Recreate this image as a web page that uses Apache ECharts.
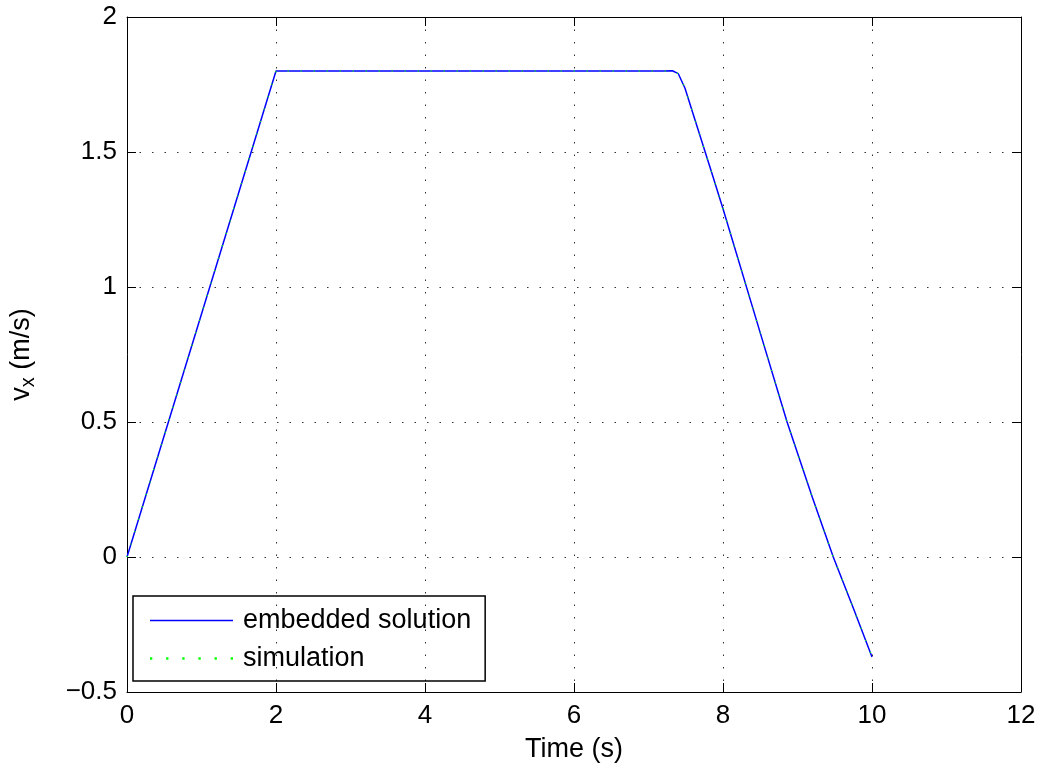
<!DOCTYPE html>
<html><head><meta charset="utf-8">
<script src="https://cdn.jsdelivr.net/npm/echarts@6/dist/echarts.min.js"></script>
<style>html,body{margin:0;padding:0;background:#fff}#c{width:1042px;height:769px}</style>
</head><body><div id="c"></div>
<script>
const timeS = [0, 2, 7.2, 7.32, 7.4, 7.49, 7.6, 7.83, 8.0, 8.5, 8.86, 9.2, 9.48, 9.75, 10];
const embedded = [0, 1.8, 1.8, 1.801, 1.79, 1.736, 1.64, 1.44, 1.29, 0.83, 0.5, 0.22, 0, -0.19, -0.37];
const simulation = [0, 1.8, 1.8, 1.801, 1.79, 1.736, 1.64, 1.44, 1.29, 0.83, 0.5, 0.22, 0, -0.19, -0.37];
const xTicks = [0, 2, 4, 6, 8, 10, 12];
const yTicks = [-0.5, 0, 0.5, 1, 1.5, 2];

const font = 'Liberation Sans, Arial, sans-serif';
const fmtY = v => (v < 0 ? '\u2212' + Math.abs(v) : String(v));
const pairs = (xs, ys) => xs.map((x, i) => [x, ys[i]]);

const chart = echarts.init(document.getElementById('c'));
const tickCommon = {show: true, inside: true, length: 9, lineStyle: {color: '#000', width: 1}};
const gridDots = {show: true, lineStyle: {color: '#333', type: [1.5, 11], width: 1}};
chart.setOption({
  animation: false,
  backgroundColor: '#fff',
  grid: {left: 127, right: 21, top: 17, bottom: 77, show: false, containLabel: false, outerBoundsMode: 'none'},
  legend: {
    left: 133, top: 596, orient: 'vertical',
    borderColor: '#000', borderWidth: 1.5, padding: [11, 14, 9, 17],
    itemWidth: 83, itemHeight: 14, itemGap: 11,
    textStyle: {fontFamily: font, fontSize: 27, color: '#000', lineHeight: 27, padding: [0, 0, 0, 5]},
    data: [
      {name: 'embedded solution', icon: 'path://M0,6 L83,6 L83,7.5 L0,7.5 Z', itemStyle: {color: '#0000ff'}},
      {name: 'simulation', icon: 'path://M0,6 L2,6 L2,8 L0,8 Z M14,6 L16,6 L16,8 L14,8 Z M28,6 L30,6 L30,8 L28,8 Z M42,6 L44,6 L44,8 L42,8 Z M56,6 L58,6 L58,8 L56,8 Z M70,6 L72,6 L72,8 L70,8 Z', itemStyle: {color: '#00ff00'}}
    ]
  },
  xAxis: [{
    type: 'value', min: 0, max: 12, interval: 2, position: 'bottom',
    name: 'Time (s)', nameLocation: 'middle', nameGap: 44,
    nameTextStyle: {fontFamily: font, fontSize: 27, color: '#000'},
    axisLine: {show: true, onZero: false, lineStyle: {color: '#000', width: 1}},
    axisTick: tickCommon,
    axisLabel: {fontFamily: font, fontSize: 26, color: '#000', margin: 11,
      formatter: v => xTicks.includes(v) ? String(v) : ''},
    splitLine: gridDots
  }, {
    type: 'value', min: 0, max: 12, interval: 2, position: 'top',
    axisLine: {show: true, onZero: false, lineStyle: {color: '#000', width: 1}},
    axisTick: tickCommon, axisLabel: {show: false}, splitLine: {show: false}
  }],
  yAxis: [{
    type: 'value', min: -0.5, max: 2, interval: 0.5, position: 'left',
    name: 'v{sub|x} (m/s)', nameLocation: 'middle', nameGap: 89, nameRotate: 90,
    nameTextStyle: {fontFamily: font, fontSize: 27, color: '#000',
      rich: {sub: {fontFamily: font, fontSize: 20, color: '#000', verticalAlign: 'bottom', padding: [12, 0, 0, 0]}}},
    axisLine: {show: true, onZero: false, lineStyle: {color: '#000', width: 1}},
    axisTick: tickCommon,
    axisLabel: {fontFamily: font, fontSize: 26, color: '#000', margin: 10,
      formatter: v => yTicks.includes(v) ? fmtY(v) : ''},
    splitLine: gridDots
  }, {
    type: 'value', min: -0.5, max: 2, interval: 0.5, position: 'right',
    axisLine: {show: true, onZero: false, lineStyle: {color: '#000', width: 1}},
    axisTick: tickCommon, axisLabel: {show: false}, splitLine: {show: false}
  }],
  series: [{
    name: 'embedded solution', type: 'line', data: pairs(timeS, embedded),
    showSymbol: false, symbol: 'none', lineStyle: {color: '#0000ff', width: 1.5}, itemStyle: {color: '#0000ff'}
  }, {
    name: 'simulation', type: 'line', data: pairs(timeS, simulation),
    showSymbol: false, symbol: 'none', lineStyle: {color: '#00ff00', width: 1.5, type: [1, 12]}, itemStyle: {color: '#00ff00'}
  }]
});
</script></body></html>
